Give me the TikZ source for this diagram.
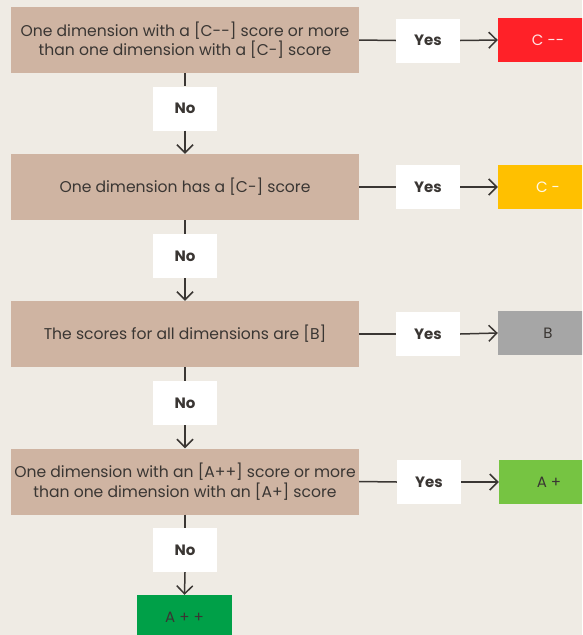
\documentclass[tikz,border=0pt]{standalone}
\usepackage{fontspec}
\setmainfont{Poppins}
\usetikzlibrary{arrows.meta}
\definecolor{bgcol}{HTML}{EFEBE4}
\definecolor{boxcol}{HTML}{CFB4A2}
\definecolor{inkcol}{HTML}{3A3633}
\definecolor{redcol}{HTML}{FF2128}
\definecolor{ambercol}{HTML}{FFC000}
\definecolor{greycol}{HTML}{A6A6A6}
\definecolor{limecol}{HTML}{76C442}
\definecolor{greencol}{HTML}{00A048}
\tikzset{
  cond/.style={fill=boxcol, minimum width=348pt, minimum height=66pt, align=center,
    font=\fontsize{15.6}{19.5}\selectfont, text=inkcol, inner sep=0pt},
  lbl/.style={fill=white, minimum width=64pt, minimum height=44pt, inner sep=0pt,
    font=\fontsize{15}{17}\selectfont\bfseries, text=inkcol},
  res/.style={minimum width=100pt, minimum height=44pt, inner sep=0pt,
    font=\fontsize{15}{17}\selectfont},
  link/.style={draw=inkcol, line width=1.5pt},
  arr/.style={link, -{Straight Barb[length=8pt,width=16pt,line width=1.5pt]}}
}
\begin{document}
\begin{tikzpicture}[x=1pt,y=-1pt]
\fill[bgcol] (0,0) rectangle (582,635);
\clip (0,0) rectangle (582,635);

% condition boxes
\node[cond] (c1) at (185,40) {One dimension with a [C-{}-] score or more\\than one dimension with a [C-] score};
\node[cond] (c2) at (185,187) {One dimension has a [C-] score};
\node[cond] (c3) at (185,334) {The scores for all dimensions are [B]};
\node[cond] (c4) at (185,481.5) {One dimension with an [A++] score or more\\than one dimension with an [A+] score};

% yes labels
\node[lbl] (y1) at (428,40.5) {Yes};
\node[lbl] (y2) at (428,187) {Yes};
\node[lbl] (y3) at (428,334) {Yes};
\node[lbl] (y4) at (429,482) {Yes};

% no labels
\node[lbl] (n1) at (185,108.5) {No};
\node[lbl] (n2) at (185,256) {No};
\node[lbl] (n3) at (185,403) {No};
\node[lbl] (n4) at (185,550) {No};

% results
\node[res, fill=redcol, text=white!88!redcol] (r1) at (548,40) {C -{}-};
\node[res, fill=ambercol, text=white!90!ambercol] (r2) at (548,187) {C -};
\node[res, fill=greycol, text=inkcol] (r3) at (548,333) {B};
\node[res, fill=limecol, text=inkcol] (r4) at (549,482) {A +};
\node[res, fill=greencol, text=inkcol, minimum width=95pt] (r5) at (184.5,617) {A + +};

% yes branches
\foreach \i in {1,2,3,4}{
  \draw[link] (c\i.east) -- (y\i.west);
  \draw[arr] (y\i.east) -- (r\i.west);
}

% no branches
\draw[link] (c1.south) -- (n1.north);
\draw[arr] (n1.south) -- (c2.north);
\draw[link] (c2.south) -- (n2.north);
\draw[arr] (n2.south) -- (c3.north);
\draw[link] (c3.south) -- (n3.north);
\draw[arr] (n3.south) -- (c4.north);
\draw[link] (c4.south) -- (n4.north);
\draw[arr] (n4.south) -- (r5.north);
\end{tikzpicture}
\end{document}
